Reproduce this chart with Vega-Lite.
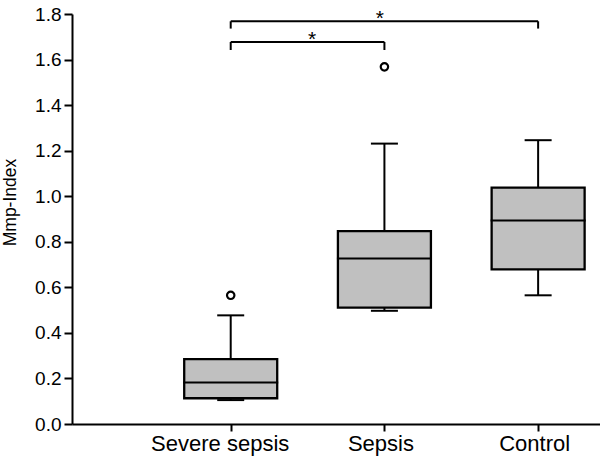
{
  "$schema": "https://vega.github.io/schema/vega-lite/v6.json",
  "width": 528,
  "height": 410,
  "autosize": {"type": "none"},
  "padding": {"left": 72, "top": 14, "right": 0, "bottom": 33},
  "background": "white",
  "config": {
    "view": {"stroke": null},
    "font": "Liberation Sans",
    "axis": {"grid": false, "domainColor": "black", "domainWidth": 2, "tickColor": "black", "tickWidth": 2, "labelColor": "black", "titleColor": "black"}
  },
  "datasets": {
    "boxes": [
      {"group": "Severe sepsis", "pos": 1, "lower": 0.105, "q1": 0.113, "median": 0.182, "q3": 0.285, "upper": 0.477},
      {"group": "Sepsis", "pos": 2, "lower": 0.497, "q1": 0.511, "median": 0.727, "q3": 0.847, "upper": 1.231},
      {"group": "Control", "pos": 3, "lower": 0.565, "q1": 0.679, "median": 0.893, "q3": 1.038, "upper": 1.246}
    ],
    "outliers": [
      {"group": "Severe sepsis", "pos": 1, "value": 0.565},
      {"group": "Sepsis", "pos": 2, "value": 1.568}
    ],
    "brackets": [
      {"from": 1, "to": 3, "level": 1.768, "drop": 1.736, "star": 1.97, "label": "*"},
      {"from": 1, "to": 2, "level": 1.677, "drop": 1.642, "star": 1.53, "label": "*"}
    ]
  },
  "layer": [
    {
      "data": {"name": "boxes"},
      "mark": {"type": "rule", "color": "black", "strokeWidth": 2},
      "encoding": {
        "x": {"field": "pos", "type": "quantitative", "scale": {"domain": [0, 3.37], "nice": false, "zero": false},
          "axis": {"values": [1, 2, 3], "title": null, "labelExpr": "datum.value == 1 ? 'Severe sepsis' : datum.value == 2 ? 'Sepsis' : 'Control'", "labelFontSize": 22, "tickSize": 7, "labelPadding": 2, "labelFlush": false,
            "labelOffset": {"condition": {"test": "datum.value == 1", "value": -11}, "value": -4}}},
        "y": {"field": "lower", "type": "quantitative", "scale": {"domain": [0, 1.8], "nice": false, "zero": false},
          "axis": {"values": [0, 0.2, 0.4, 0.6, 0.8, 1.0, 1.2, 1.4, 1.6, 1.8], "format": ".1f", "title": "Mmp-Index", "labelFontSize": 19, "tickSize": 8, "labelPadding": 3, "titleFontSize": 17.5, "titleFontWeight": "normal", "titlePadding": 15, "titleY": 188}},
        "y2": {"field": "upper"}
      }
    },
    {
      "data": {"name": "boxes"},
      "mark": {"type": "bar", "size": 93, "fill": "#c0c0c0", "stroke": "black", "strokeWidth": 2.3},
      "encoding": {
        "x": {"field": "pos", "type": "quantitative"},
        "y": {"field": "q1", "type": "quantitative"},
        "y2": {"field": "q3"}
      }
    },
    {
      "data": {"name": "boxes"},
      "mark": {"type": "tick", "orient": "horizontal", "size": 95, "thickness": 2, "color": "black", "opacity": 1},
      "encoding": {
        "x": {"field": "pos", "type": "quantitative"},
        "y": {"field": "median", "type": "quantitative"}
      }
    },
    {
      "data": {"name": "boxes"},
      "mark": {"type": "tick", "orient": "horizontal", "size": 27, "thickness": 2, "color": "black", "opacity": 1},
      "encoding": {
        "x": {"field": "pos", "type": "quantitative"},
        "y": {"field": "upper", "type": "quantitative"}
      }
    },
    {
      "data": {"name": "boxes"},
      "mark": {"type": "tick", "orient": "horizontal", "size": 27, "thickness": 2, "color": "black", "opacity": 1},
      "encoding": {
        "x": {"field": "pos", "type": "quantitative"},
        "y": {"field": "lower", "type": "quantitative"}
      }
    },
    {
      "data": {"name": "outliers"},
      "mark": {"type": "point", "shape": "circle", "size": 55, "filled": false, "stroke": "black", "strokeWidth": 2.2, "opacity": 1},
      "encoding": {
        "x": {"field": "pos", "type": "quantitative"},
        "y": {"field": "value", "type": "quantitative"}
      }
    },
    {
      "data": {"name": "brackets"},
      "mark": {"type": "rule", "color": "black", "strokeWidth": 2},
      "encoding": {
        "x": {"field": "from", "type": "quantitative"},
        "x2": {"field": "to"},
        "y": {"field": "level", "type": "quantitative"}
      }
    },
    {
      "data": {"name": "brackets"},
      "mark": {"type": "rule", "color": "black", "strokeWidth": 2},
      "encoding": {
        "x": {"field": "from", "type": "quantitative"},
        "y": {"field": "level", "type": "quantitative"},
        "y2": {"field": "drop"}
      }
    },
    {
      "data": {"name": "brackets"},
      "mark": {"type": "rule", "color": "black", "strokeWidth": 2},
      "encoding": {
        "x": {"field": "to", "type": "quantitative"},
        "y": {"field": "level", "type": "quantitative"},
        "y2": {"field": "drop"}
      }
    },
    {
      "data": {"name": "brackets"},
      "mark": {"type": "text", "fontSize": 21, "baseline": "alphabetic", "dy": 4, "color": "black"},
      "encoding": {
        "x": {"field": "star", "type": "quantitative"},
        "y": {"field": "level", "type": "quantitative"},
        "text": {"field": "label"}
      }
    }
  ]
}
